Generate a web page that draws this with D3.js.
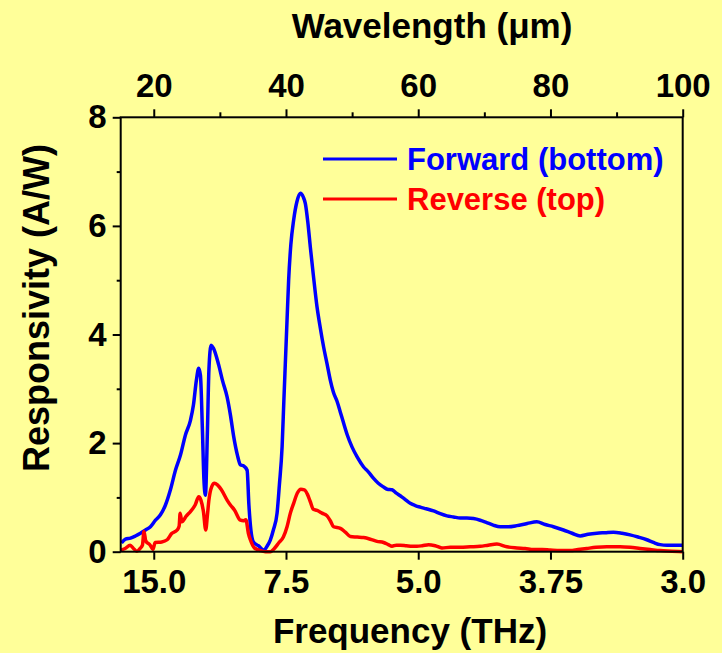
<!DOCTYPE html>
<html>
<head>
<meta charset="utf-8">
<script src="https://cdn.jsdelivr.net/npm/d3@7"></script>
<style>
  html, body { margin: 0; padding: 0; background: #ffff99; }
  svg { display: block; }
  text { font-family: Arial, "Liberation Sans", sans-serif; font-weight: bold; }
</style>
</head>
<body>
<svg id="chart" width="722" height="653"></svg>
<script>
// forward (bottom) illumination: wavelength (um) / responsivity (A/W)
var fwdWl = [15.12, 15.72, 16.48, 17.23, 17.99, 18.75, 19.50, 20.26, 21.01, 21.77, 22.52, 23.28, 24.04, 24.79,
  25.55, 26.00, 26.45, 26.80, 27.06, 27.36, 27.59, 27.81, 28.12, 28.34, 28.67, 29.02, 29.82, 30.38, 31.09,
  31.59, 32.09, 32.65, 33.10, 33.60, 34.12, 34.39, 34.69, 35.07, 35.82, 36.62, 37.18, 37.64, 38.09, 38.65,
  39.00, 39.41, 39.68, 39.90, 40.16, 40.40, 40.73, 41.16, 41.64, 42.17, 42.62, 42.93, 43.30, 43.68, 44.14,
  44.69, 45.19, 45.69, 46.21, 46.70, 47.16, 47.72, 48.22, 48.71, 49.27, 49.98, 50.78, 51.74, 52.45, 53.25,
  53.96, 54.76, 55.32, 56.03, 56.68, 57.28, 58.04, 58.79, 59.55, 60.31, 61.21, 62.32, 63.33, 64.34, 65.34,
  66.35, 67.36, 68.36, 69.37, 70.28, 71.34, 72.40, 73.61, 74.92, 76.48, 77.94, 79.20, 80.45, 81.96, 83.28,
  84.49, 85.70, 87.01, 88.27, 89.52, 90.83, 92.04, 93.25, 94.57, 95.57, 96.58, 97.64, 98.84, 100.0];
var fwdResp = [0.16, 0.23, 0.25, 0.29, 0.34, 0.40, 0.46, 0.58, 0.68, 0.86, 1.14, 1.50, 1.78, 2.15,
  2.42, 2.70, 3.16, 3.38, 3.25, 2.24, 1.32, 1.04, 2.24, 3.34, 3.80, 3.75, 3.44, 3.16, 2.85,
  2.52, 2.12, 1.78, 1.60, 1.58, 1.50, 0.86, 0.40, 0.18, 0.11, 0.03, 0.11, 0.22, 0.40, 0.71,
  1.23, 1.93, 2.79, 3.47, 4.27, 5.00, 5.65, 6.11, 6.44, 6.60, 6.53, 6.41, 6.07, 5.61, 5.09,
  4.51, 4.12, 3.77, 3.46, 3.16, 2.94, 2.77, 2.57, 2.37, 2.15, 1.93, 1.74, 1.56, 1.47, 1.35,
  1.26, 1.19, 1.15, 1.14, 1.08, 1.03, 0.96, 0.89, 0.85, 0.82, 0.79, 0.75, 0.70, 0.66, 0.64,
  0.62, 0.62, 0.61, 0.58, 0.54, 0.49, 0.46, 0.46, 0.48, 0.52, 0.55, 0.50, 0.46, 0.40, 0.34,
  0.29, 0.32, 0.34, 0.35, 0.36, 0.34, 0.31, 0.27, 0.22, 0.17, 0.13, 0.12, 0.12, 0.12];

// reverse (top) illumination
var revWl = [15.00, 15.68, 16.43, 16.93, 17.46, 17.94, 18.29, 18.52, 18.79, 19.46, 19.88, 20.21, 21.21, 22.03,
  22.67, 23.54, 23.84, 23.99, 24.26, 24.94, 25.55, 26.26, 26.80, 27.13, 27.51, 27.86, 28.12, 28.34, 28.77,
  29.17, 29.63, 30.23, 31.09, 31.59, 32.20, 33.10, 33.56, 33.93, 34.31, 34.61, 35.22, 36.13, 36.88, 37.64,
  38.24, 38.89, 39.60, 40.16, 40.66, 41.16, 41.72, 42.25, 42.78, 43.23, 43.68, 44.14, 44.69, 45.45, 46.21,
  46.70, 47.20, 48.22, 48.97, 49.73, 50.78, 51.74, 52.75, 53.76, 54.76, 55.47, 56.03, 56.68, 57.28, 58.19,
  59.10, 59.81, 60.61, 61.56, 62.57, 63.58, 64.84, 66.35, 67.86, 69.37, 70.58, 71.90, 73.41, 74.92, 76.17,
  77.43, 78.74, 79.95, 81.46, 82.98, 84.18, 85.50, 86.91, 88.52, 90.53, 92.04, 93.55, 95.07, 96.58, 98.39, 100.0];
var revResp = [0.03, 0.06, 0.12, 0.06, 0.01, 0.06, 0.12, 0.37, 0.20, 0.12, 0.04, 0.17, 0.18, 0.22,
  0.33, 0.40, 0.47, 0.71, 0.55, 0.66, 0.74, 0.86, 1.01, 0.95, 0.74, 0.40, 0.68, 0.95, 1.20,
  1.26, 1.23, 1.14, 0.95, 0.86, 0.77, 0.58, 0.57, 0.59, 0.34, 0.22, 0.07, 0.02, 0.00, 0.00,
  0.06, 0.16, 0.27, 0.46, 0.71, 0.89, 1.08, 1.15, 1.14, 1.06, 0.92, 0.78, 0.76, 0.71, 0.66,
  0.57, 0.46, 0.43, 0.36, 0.28, 0.27, 0.26, 0.23, 0.19, 0.17, 0.13, 0.10, 0.12, 0.12, 0.11,
  0.10, 0.10, 0.11, 0.13, 0.11, 0.07, 0.08, 0.08, 0.09, 0.10, 0.12, 0.14, 0.09, 0.07, 0.06,
  0.04, 0.04, 0.03, 0.02, 0.02, 0.04, 0.06, 0.08, 0.09, 0.09, 0.08, 0.06, 0.04, 0.02, 0.01, 0.00];

var wlTicks = [20, 40, 60, 80, 100];
var wlMinor = [30, 50, 70, 90];
var freqLabels = ["15.0", "7.5", "5.0", "3.75", "3.0"];
var respTicks = [0, 2, 4, 6, 8];
var respMinor = [1, 3, 5, 7];

var series = [
  { name: "Forward (bottom)", color: "#0000ff", wl: fwdWl, resp: fwdResp },
  { name: "Reverse (top)", color: "#ff0000", wl: revWl, resp: revResp }
];

var margin = { left: 120.7, right: 682.7, top: 117.3, bottom: 551.7 };
var svg = d3.select("#chart");

var x = d3.scaleLinear().domain([15, 100]).range([margin.left, margin.right]);
var y = d3.scaleLinear().domain([0, 8]).range([margin.bottom, margin.top]);

svg.append("rect").attr("width", 722).attr("height", 653).attr("fill", "#ffff99");

// curves
var line = d3.line()
  .x(function (d) { return x(d[0]); })
  .y(function (d) { return y(d[1]); })
  .curve(d3.curveMonotoneX);

series.forEach(function (s) {
  var pts = s.wl.map(function (w, i) { return [w, s.resp[i]]; });
  svg.append("path").datum(pts)
    .attr("d", line)
    .attr("fill", "none")
    .attr("stroke", s.color)
    .attr("stroke-width", 3.5)
    .attr("stroke-linejoin", "round");
});

function styleAxis(g, size) {
  g.select(".domain").remove();
  g.selectAll(".tick line").attr("stroke", "#000").attr("stroke-width", 2);
  g.selectAll(".tick text").attr("fill", "#000").style("font-size", size + "px");
}

// bottom axis: frequency labels at wavelength positions
var gb = svg.append("g").attr("transform", "translate(0," + margin.bottom + ")")
  .call(d3.axisBottom(x).tickValues(wlTicks).tickSize(8).tickPadding(10)
    .tickFormat(function (d, i) { return freqLabels[i]; }));
styleAxis(gb, 33);

// top axis: wavelength
var gt = svg.append("g").attr("transform", "translate(0," + margin.top + ")")
  .call(d3.axisTop(x).tickValues(wlTicks).tickSize(8).tickPadding(12).tickFormat(d3.format("d")));
styleAxis(gt, 33);
var gtm = svg.append("g").attr("transform", "translate(0," + margin.top + ")")
  .call(d3.axisTop(x).tickValues(wlMinor).tickSize(5).tickFormat(""));
styleAxis(gtm, 33);

// left axis
var gl = svg.append("g").attr("transform", "translate(" + margin.left + ",0)")
  .call(d3.axisLeft(y).tickValues(respTicks).tickSize(8).tickPadding(6).tickFormat(d3.format("d")));
styleAxis(gl, 33);
var glm = svg.append("g").attr("transform", "translate(" + margin.left + ",0)")
  .call(d3.axisLeft(y).tickValues(respMinor).tickSize(4).tickFormat(""));
styleAxis(glm, 33);

// frame
svg.append("rect")
  .attr("x", margin.left).attr("y", margin.top)
  .attr("width", margin.right - margin.left).attr("height", margin.bottom - margin.top)
  .attr("fill", "none").attr("stroke", "#000").attr("stroke-width", 2);

// axis titles
svg.append("text").attr("x", 432).attr("y", 38).attr("text-anchor", "middle")
  .style("font-size", "35px").text("Wavelength (\u03bcm)");
svg.append("text").attr("x", 410).attr("y", 643).attr("text-anchor", "middle")
  .style("font-size", "35px").text("Frequency (THz)");
svg.append("text").attr("transform", "translate(49,308) rotate(-90)").attr("text-anchor", "middle")
  .style("font-size", "36px").text("Responsivity (A/W)");

// legend
series.forEach(function (s, i) {
  var ly = 159 + i * 40;
  svg.append("line").attr("x1", 323).attr("x2", 397).attr("y1", ly).attr("y2", ly)
    .attr("stroke", s.color).attr("stroke-width", 3);
  svg.append("text").attr("x", 407).attr("y", ly + 11)
    .attr("fill", s.color).style("font-size", "31px").text(s.name);
});
</script>
</body>
</html>
